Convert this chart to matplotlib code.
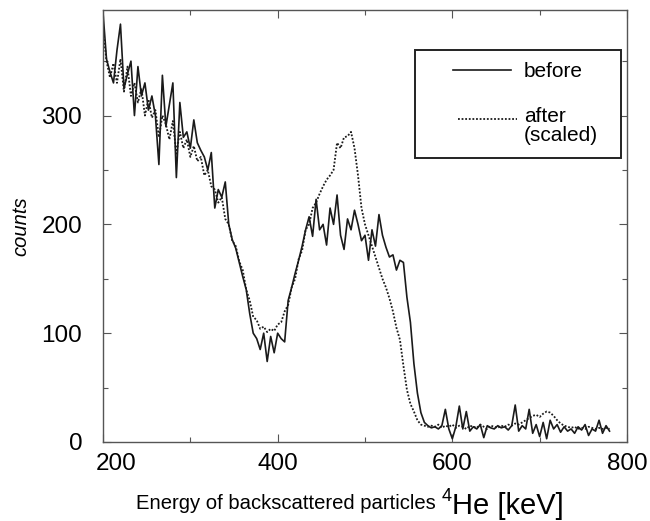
import numpy as np
import matplotlib
matplotlib.use("Agg")
import matplotlib.pyplot as plt
from matplotlib.ticker import MultipleLocator
from matplotlib.lines import Line2D
from matplotlib.patches import Rectangle
import matplotlib.transforms as mtransforms

plt.rcParams['font.family'] = ['Liberation Sans', 'DejaVu Sans']

# energy channels (keV)
energy_start = 200
energy_step = 4

before = [395, 352, 340, 330, 360, 384, 325, 338, 350, 300,
          345, 318, 330, 305, 318, 300, 255, 337, 290, 310,
          330, 243, 312, 280, 285, 270, 296, 275, 268, 262,
          250, 266, 215, 232, 225, 239, 200, 186, 178, 165,
          152, 140, 118, 100, 95, 85, 100, 74, 97, 82,
          100, 95, 92, 130, 142, 155, 167, 180, 195, 207,
          189, 223, 195, 200, 181, 215, 200, 227, 190, 177,
          205, 195, 213, 200, 185, 190, 167, 195, 180, 209,
          190, 179, 170, 172, 158, 167, 165, 133, 110, 72,
          45, 27, 18, 15, 13, 14, 12, 15, 30, 12,
          3, 14, 33, 12, 28, 10, 14, 12, 16, 4,
          15, 13, 12, 15, 13, 14, 11, 15, 34, 10,
          15, 12, 30, 8, 16, 5, 18, 3, 20, 12,
          16, 9, 14, 10, 12, 8, 14, 11, 16, 6,
          12, 10, 20, 8, 15, 10]

after = [380, 350, 335, 348, 330, 352, 322, 345, 318, 330,
         312, 325, 300, 315, 298, 305, 280, 300, 292, 278,
         295, 265, 285, 270, 278, 262, 272, 258, 262, 245,
         250, 235, 232, 220, 225, 205, 200, 185, 180, 166,
         158, 140, 130, 115, 112, 104, 106, 101, 104, 102,
         108, 110, 120, 126, 142, 150, 168, 176, 195, 200,
         215, 220, 228, 235, 241, 245, 250, 275, 270, 280,
         281, 285, 270, 245, 215, 200, 190, 180, 170, 160,
         150, 142, 132, 120, 105, 94, 70, 48, 35, 28,
         20, 16, 15, 14, 15, 14, 16, 13, 15, 14,
         16, 13, 15, 14, 12, 15, 14, 13, 16, 14,
         12, 15, 14, 13, 15, 14, 16, 15, 17, 16,
         18, 20, 22, 24, 25, 23, 26, 28, 27, 24,
         20, 17, 15, 14, 13, 14, 12, 13, 12, 14,
         13, 12, 13, 12, 13, 12]

series_labels = ['before', 'after', '(scaled)']

n = min(len(before), len(after))
energy = energy_start + energy_step * np.arange(n)

W, H = 650, 521
fig = plt.figure(figsize=(6.5, 5.21), dpi=100)
ax = fig.add_axes([103 / W, 1 - 442 / H, 524 / W, 432 / H])

line_col = '#1a1a1a'
before_style = dict(color=line_col, lw=1.2, ls='-')
after_style = dict(color=line_col, lw=1.3, ls=(0, (1, 1)))

ax.plot(energy, before[:n], **before_style)
ax.plot(energy, after[:n], **after_style)

ax.set_xlim(200, 800)
ax.set_ylim(0, 397)
ax.xaxis.set_major_locator(MultipleLocator(200))
ax.xaxis.set_minor_locator(MultipleLocator(100))
ax.yaxis.set_major_locator(MultipleLocator(100))
ax.yaxis.set_minor_locator(MultipleLocator(50))
ax.tick_params(which='both', direction='in', top=True, right=True,
               labelsize=17.5, color='#555555', width=0.8)
ax.tick_params(which='major', length=6)
ax.tick_params(which='minor', length=3.5)
ax.tick_params(axis='x', pad=8)
ax.tick_params(axis='y', pad=15)
for s in ax.spines.values():
    s.set_color('#555555')
    s.set_linewidth(1.0)

ax.set_ylabel('counts', fontsize=14.5, style='italic')
ax.yaxis.set_label_coords((30 - 103) / 524, 0.5)

# legend (drawn as a box with sample lines and labels, in axes coordinates)
def ax_x(px):
    return (px - 103) / 524

def ax_y(py):
    return (442 - py) / 432

ax.add_patch(Rectangle((ax_x(415), ax_y(158)), ax_x(621) - ax_x(415), ax_y(50) - ax_y(158),
                       transform=ax.transAxes, fill=True, facecolor='white',
                       edgecolor='#222222', lw=1.4, zorder=5))
ax.add_line(Line2D([ax_x(453), ax_x(511)], [ax_y(70), ax_y(70)], transform=ax.transAxes,
                   zorder=6, **before_style))
ax.add_line(Line2D([ax_x(458), ax_x(517)], [ax_y(119), ax_y(119)], transform=ax.transAxes,
                   zorder=6, **after_style))
ax.text(ax_x(524), ax_y(77), series_labels[0], transform=ax.transAxes, fontsize=15,
        ha='left', va='baseline', zorder=6)
ax.text(ax_x(524), ax_y(122), series_labels[1], transform=ax.transAxes, fontsize=15,
        ha='left', va='baseline', zorder=6)
ax.text(ax_x(524), ax_y(141), series_labels[2], transform=ax.transAxes, fontsize=15,
        ha='left', va='baseline', zorder=6)

# x axis label with large "He [keV]"
fig.canvas.draw()
r = fig.canvas.get_renderer()

# shift first x tick label to the right (as in reference)
offset = mtransforms.ScaledTranslation(9.5 / 72, 0, fig.dpi_scale_trans)
for lbl in ax.get_xticklabels():
    if lbl.get_text() == '200':
        lbl.set_transform(lbl.get_transform() + offset)

t1 = fig.text(136 / W, 1 - 509 / H, 'Energy of backscattered particles', fontsize=14.6,
              ha='left', va='baseline')
x1 = t1.get_window_extent(r).x1
t2 = fig.text((x1 + 6) / W, 1 - 501 / H, '4', fontsize=13, ha='left', va='baseline')
x2 = t2.get_window_extent(r).x1
fig.text((x2 + 0) / W, 1 - 514 / H, 'He [keV]', fontsize=21, ha='left', va='baseline')

fig.savefig('out.png', dpi=100)
